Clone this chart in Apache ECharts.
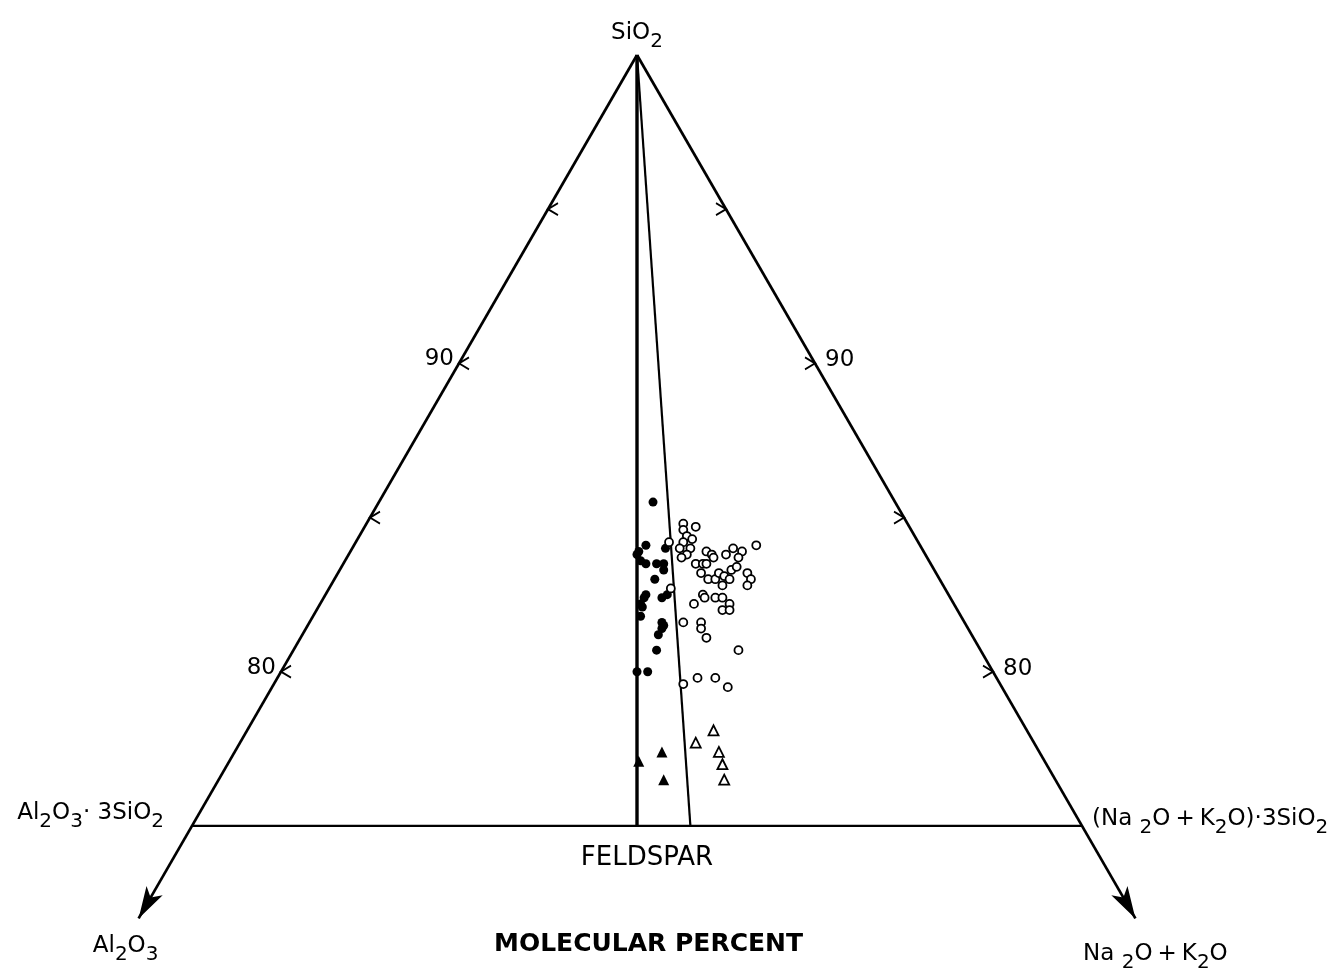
<!DOCTYPE html>
<html lang="en">
<head>
<meta charset="UTF-8">
<title>SiO2 - Al2O3 - (Na2O+K2O)</title>
<style>
  html, body { margin: 0; padding: 0; background: #fff; }
  #chart { width: 1341px; height: 968px; }
</style>
</head>
<body>
<div id="chart"></div>
<script src="https://cdn.jsdelivr.net/npm/echarts/dist/echarts.min.js"></script>
<script>
// 组成都写成 [SiO2, Al2O3, Na2O+K2O]，摩尔百分比
const apex = [100, 0, 0]
const alumTip = [72, 28, 0]
const alkTip = [72, 0, 28]
const alumJoin = [75, 25, 0]        // Al2O3·3SiO2
const alkJoin = [75, 0, 25]         // (Na2O+K2O)·3SiO2
const feldspar = [75, 12.5, 12.5]
const secondLineEnd = [75, 11, 14]

const tickValues = [95, 90, 85, 80]
const tickLabels = [90, 80]

const filledCircles = [
  [85.5, 6.8, 7.7], [84.1, 7.7, 8.2], [83.9, 8.0, 8.1], [83.8, 8.1, 8.1],
  [84.0, 7.2, 8.8], [83.6, 8.1, 8.3], [83.5, 8.0, 8.5], [83.5, 7.7, 8.8],
  [83.5, 7.5, 9.0], [83.3, 7.6, 9.1], [83.0, 8.0, 9.0], [82.5, 8.5, 9.0],
  [82.4, 8.6, 9.0], [82.2, 8.8, 9.0], [82.1, 8.8, 9.1], [82.4, 8.1, 9.5],
  [82.5, 7.9, 9.6], [81.8, 9.0, 9.2], [81.6, 8.5, 9.9], [81.5, 8.5, 10.0],
  [81.4, 8.6, 10.0], [81.2, 8.8, 10.0], [80.7, 9.1, 10.2], [80.0, 10.0, 10.0],
  [80.0, 9.7, 10.3]
]

const openCircles = [
  [84.8, 6.3, 8.9], [84.6, 6.4, 9.0], [84.7, 6.0, 9.3], [84.4, 6.4, 9.2],
  [84.3, 6.3, 9.4], [84.2, 6.6, 9.2], [84.2, 7.0, 8.8], [84.0, 6.8, 9.2],
  [84.0, 6.5, 9.5], [83.8, 6.7, 9.5], [83.7, 6.9, 9.4], [83.9, 6.1, 10.0],
  [83.8, 6.0, 10.2], [83.7, 6.0, 10.3], [83.8, 5.6, 10.6], [84.0, 5.3, 10.7],
  [83.9, 5.1, 11.0], [83.7, 5.3, 11.0], [84.1, 4.6, 11.3], [83.5, 6.6, 9.9],
  [83.5, 6.4, 10.1], [83.5, 6.3, 10.2], [83.2, 6.6, 10.2], [83.0, 6.5, 10.5],
  [83.0, 6.3, 10.7], [83.2, 6.1, 10.7], [83.1, 6.0, 10.9], [83.0, 5.9, 11.1],
  [82.8, 6.2, 11.0], [83.3, 5.7, 11.0], [83.4, 5.5, 11.1], [83.2, 5.3, 11.5],
  [83.0, 5.3, 11.7], [82.8, 5.5, 11.7], [82.5, 6.9, 10.6], [82.4, 6.9, 10.7],
  [82.4, 6.6, 11.0], [82.4, 6.4, 11.2], [82.2, 6.3, 11.5], [82.0, 6.6, 11.4],
  [82.0, 6.4, 11.6], [82.2, 7.3, 10.5], [81.6, 7.9, 10.5], [81.6, 7.4, 11.0],
  [81.4, 7.5, 11.1], [81.1, 7.5, 11.4], [80.7, 6.8, 12.5], [79.6, 8.9, 11.5],
  [79.8, 8.4, 11.8], [79.8, 7.9, 12.3], [79.5, 7.7, 12.8], [82.7, 7.7, 9.6]
]

const filledTriangles = [
  [77.1, 11.4, 11.5], [77.4, 10.6, 12.0], [76.5, 11.0, 12.5]
]

const openTriangles = [
  [78.1, 8.8, 13.1], [77.7, 9.5, 12.8], [77.4, 9.0, 13.6],
  [77.0, 9.1, 13.9], [76.5, 9.3, 14.2]
]

const FONT = 'DejaVu Sans'
const SQ3 = Math.sqrt(3) / 2

// 三角坐标 -> 直角坐标
function toXY(p) {
  const sum = p[0] + p[1] + p[2]
  const s = p[0] / sum * 100
  const al = p[1] / sum * 100
  const alk = p[2] / sum * 100
  return [50 + (alk - al) / 2, s * SQ3]
}

function segment(a, b, width) {
  return {
    type: 'line',
    data: [toXY(a), toXY(b)],
    symbol: 'none',
    silent: true,
    lineStyle: { color: '#000', width: width },
    z: 2
  }
}

function points(list, symbol, size, filled) {
  return {
    type: 'scatter',
    data: list.map(p => toXY(p)),
    symbol: symbol,
    symbolSize: size,
    silent: true,
    itemStyle: filled
      ? { color: '#000', opacity: 1 }
      : { color: '#fff', borderColor: '#000', borderWidth: 1.8, opacity: 1 },
    z: 5
  }
}

const rich = {
  t: { fontFamily: FONT, fontSize: 23, color: '#000', lineHeight: 28 },
  f: { fontFamily: FONT, fontSize: 26, color: '#000', lineHeight: 28 },
  p: { fontFamily: FONT, fontSize: 23, color: '#000', lineHeight: 28, padding: [0, 5, 0, 5] },
  s: { fontFamily: FONT, fontSize: 20, color: '#000', lineHeight: 28, padding: [17, 0, 0, 0] }
}

function draw() {
  const myChart = echarts.init(document.getElementById('chart'))

  const option = {
    animation: false,
    backgroundColor: '#fff',
    title: {
      text: 'MOLECULAR PERCENT',
      left: 489,
      top: 927,
      textStyle: { fontFamily: FONT, fontWeight: 'bold', fontSize: 25, color: '#000' }
    },
    grid: { left: 103, top: 55, width: 1068, height: 876 },
    xAxis: { type: 'value', min: 35, max: 65, show: false },
    yAxis: { type: 'value', min: 62, max: 100 * SQ3, show: false },
    series: [
      segment(apex, alumTip, 2.7),
      segment(apex, alkTip, 2.7),
      segment(alumJoin, alkJoin, 2.2),
      segment(apex, feldspar, 3.4),
      segment(apex, secondLineEnd, 2.2),
      // 箭头（尖端落在端点上）
      {
        type: 'scatter',
        silent: true,
        symbol: 'arrow',
        symbolSize: [14, 32],
        itemStyle: { color: '#000', opacity: 1 },
        data: [
          { value: toXY(alumTip), symbolRotate: 150 },
          { value: toXY(alkTip), symbolRotate: -150 }
        ],
        z: 3
      },
      // 刻度
      {
        type: 'scatter',
        silent: true,
        symbol: 'path://M10,0 L0,6 L10,12',
        symbolSize: [10, 12],
        symbolOffset: [5, 0],
        itemStyle: { color: 'none', borderColor: '#000', borderWidth: 1.8, opacity: 1 },
        data: tickValues.map(v => toXY([v, 100 - v, 0])),
        z: 3
      },
      {
        type: 'scatter',
        silent: true,
        symbol: 'path://M0,0 L10,6 L0,12',
        symbolSize: [10, 12],
        symbolOffset: [-5, 0],
        itemStyle: { color: 'none', borderColor: '#000', borderWidth: 1.8, opacity: 1 },
        data: tickValues.map(v => toXY([v, 0, 100 - v])),
        z: 3
      },
      // 刻度文字
      {
        type: 'scatter',
        silent: true,
        symbolSize: 0,
        itemStyle: { opacity: 1 },
        label: { show: true, fontFamily: FONT, fontSize: 23, color: '#000', opacity: 1, formatter: '{b}' },
        data: tickLabels.map(v => ({
          name: String(v), value: toXY([v, 100 - v, 0]),
          label: { position: 'left', distance: 5, offset: [0, -4] }
        })).concat(tickLabels.map(v => ({
          name: String(v), value: toXY([v, 0, 100 - v]),
          label: { position: 'right', distance: 10, offset: [0, -3] }
        })))
      },
      points(filledCircles, 'circle', 9, true),
      points(openCircles, 'circle', 8, false),
      points(filledTriangles, 'triangle', 11, true),
      points(openTriangles, 'triangle', 10, false),
      // 端元名称
      {
        type: 'scatter',
        silent: true,
        symbolSize: 0,
        itemStyle: { opacity: 1 },
        label: { show: true, color: '#000', opacity: 1, rich: rich },
        data: [
          { value: toXY(apex), label: { position: 'top', distance: 8, formatter: '{t|SiO}{s|2}' } },
          { value: toXY(alumJoin), label: { position: 'left', distance: 28, offset: [0, -13], formatter: '{t|Al}{s|2}{t|O}{s|3}{t|· 3SiO}{s|2}' } },
          { value: toXY(alkJoin), label: { position: 'right', distance: 10, offset: [0, -7], formatter: '{t|(Na }{s|2}{t|O}{p|+}{t|K}{s|2}{t|O)·3SiO}{s|2}' } },
          { value: toXY(feldspar), label: { position: 'bottom', distance: 18, offset: [10, 0], formatter: '{f|FELDSPAR}' } },
          { value: toXY(alumTip), label: { position: 'bottom', distance: 14, offset: [-13, 0], formatter: '{t|Al}{s|2}{t|O}{s|3}' } },
          { value: toXY(alkTip), label: { position: 'bottom', distance: 22, offset: [20, 0], formatter: '{t|Na }{s|2}{t|O}{p|+}{t|K}{s|2}{t|O}' } }
        ],
        z: 6
      }
    ]
  }

  myChart.setOption(option)
}

draw()
</script>
</body>
</html>
